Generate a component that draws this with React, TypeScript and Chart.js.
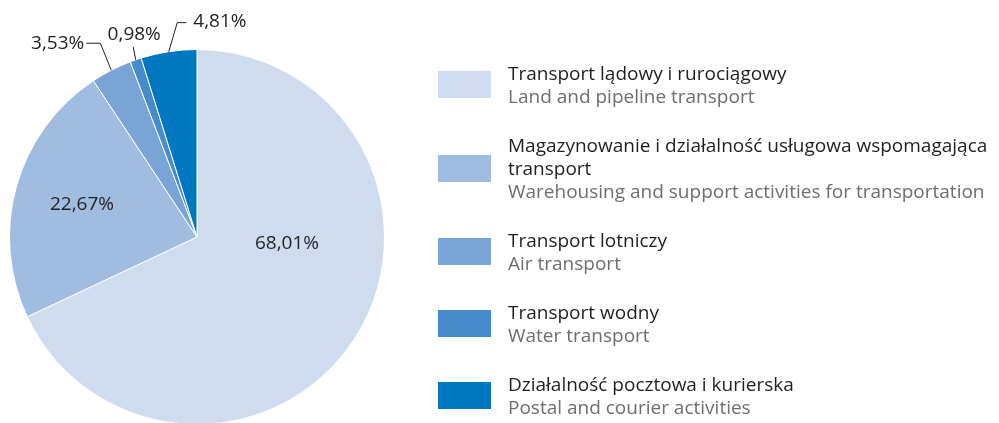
import React, { useEffect, useRef } from "react";
import { Chart, registerables } from "chart.js";

Chart.register(...registerables);

const shares = [68.01, 22.67, 3.53, 0.98, 4.81];
const valueLabels = ["68,01%", "22,67%", "3,53%", "0,98%", "4,81%"];
const labelsPl = [
  "Transport lądowy i rurociągowy",
  "Magazynowanie i działalność usługowa wspomagająca transport",
  "Transport lotniczy",
  "Transport wodny",
  "Działalność pocztowa i kurierska",
];
const labelsPlLines = [
  ["Transport lądowy i rurociągowy"],
  ["Magazynowanie i działalność usługowa wspomagająca", "transport"],
  ["Transport lotniczy"],
  ["Transport wodny"],
  ["Działalność pocztowa i kurierska"],
];
const labelsEn = [
  "Land and pipeline transport",
  "Warehousing and support activities for transportation",
  "Air transport",
  "Water transport",
  "Postal and courier activities",
];
const colors = ["#cfdcf0", "#a0bce0", "#79a5d6", "#468ccd", "#0078c0"];

const FONT = "'Open Sans', sans-serif";
const DARK = "#231f20";
const GRAY = "#6d6e71";

// label placement styles (per slice)
const labelStyles: any[] = [
  { kind: "inside", dx: 90, dy: 7 },
  { kind: "inside", dx: -115, dy: -32 },
  { kind: "outside", path: [[-11, -27], [-14, 0]], align: "right", tx: -2, ty: 0 },
  { kind: "outside", path: [[-2.5, -13]], align: "center", tx: 1, ty: -12 },
  { kind: "outside", path: [[8.5, -29], [9, 0]], align: "left", tx: 7, ty: -1 },
];

const labelPlugin = {
  id: "sliceLabels",
  afterDatasetsDraw(chart: any) {
    const ctx = chart.ctx;
    const meta = chart.getDatasetMeta(0);
    ctx.save();
    ctx.font = `19px ${FONT}`;
    ctx.fillStyle = DARK;
    ctx.strokeStyle = DARK;
    ctx.lineWidth = 1;
    meta.data.forEach((arc: any, i: number) => {
      const st = labelStyles[i];
      const txt = valueLabels[i];
      if (st.kind === "inside") {
        ctx.textAlign = "center";
        ctx.textBaseline = "middle";
        ctx.fillText(txt, arc.x + st.dx, arc.y + st.dy);
      } else {
        const mid = (arc.startAngle + arc.endAngle) / 2;
        let px = arc.x + Math.cos(mid) * arc.outerRadius;
        let py = arc.y + Math.sin(mid) * arc.outerRadius;
        ctx.beginPath();
        ctx.moveTo(px, py);
        st.path.forEach((p: number[]) => {
          px += p[0];
          py += p[1];
          ctx.lineTo(px, py);
        });
        ctx.stroke();
        ctx.textAlign = st.align;
        ctx.textBaseline = "middle";
        ctx.fillText(txt, px + st.tx, py + st.ty);
      }
    });
    ctx.restore();
  },
};

export default function App() {
  const ref = useRef<HTMLCanvasElement | null>(null);
  useEffect(() => {
    if (!ref.current) return;
    const chart = new Chart(ref.current, {
      type: "pie",
      data: {
        labels: labelsPl,
        datasets: [
          {
            data: shares,
            backgroundColor: colors,
            borderColor: "#ffffff",
            borderWidth: 1,
          },
        ],
      },
      options: {
        responsive: false,
        animation: false,
        devicePixelRatio: 1,
        layout: { padding: { left: 9, right: 614, top: 49, bottom: 5 } },
        plugins: { legend: { display: false }, tooltip: { enabled: false } },
      },
      plugins: [labelPlugin],
    });
    return () => chart.destroy();
  }, []);

  return (
    <div
      style={{
        position: "absolute",
        left: 0,
        top: 0,
        width: 999,
        height: 423,
        overflow: "hidden",
        background: "#fff",
      }}
    >
      <canvas ref={ref} width={999} height={430} style={{ display: "block" }} />
      <div style={{ position: "absolute", left: 438, top: 61.5, fontFamily: FONT, fontSize: 19 }}>
        {labelsPlLines.map((lines, i) => (
          <div
            key={i}
            style={{ display: "flex", alignItems: "center", marginBottom: 26 }}
          >
            <div style={{ width: 53, height: 27, background: colors[i], flex: "none" }} />
            <div style={{ marginLeft: 17, lineHeight: "23px", whiteSpace: "nowrap" }}>
              {lines.map((l, j) => (
                <div key={j} style={{ color: DARK }}>{l}</div>
              ))}
              <div style={{ color: GRAY }}>{labelsEn[i]}</div>
            </div>
          </div>
        ))}
      </div>
    </div>
  );
}
